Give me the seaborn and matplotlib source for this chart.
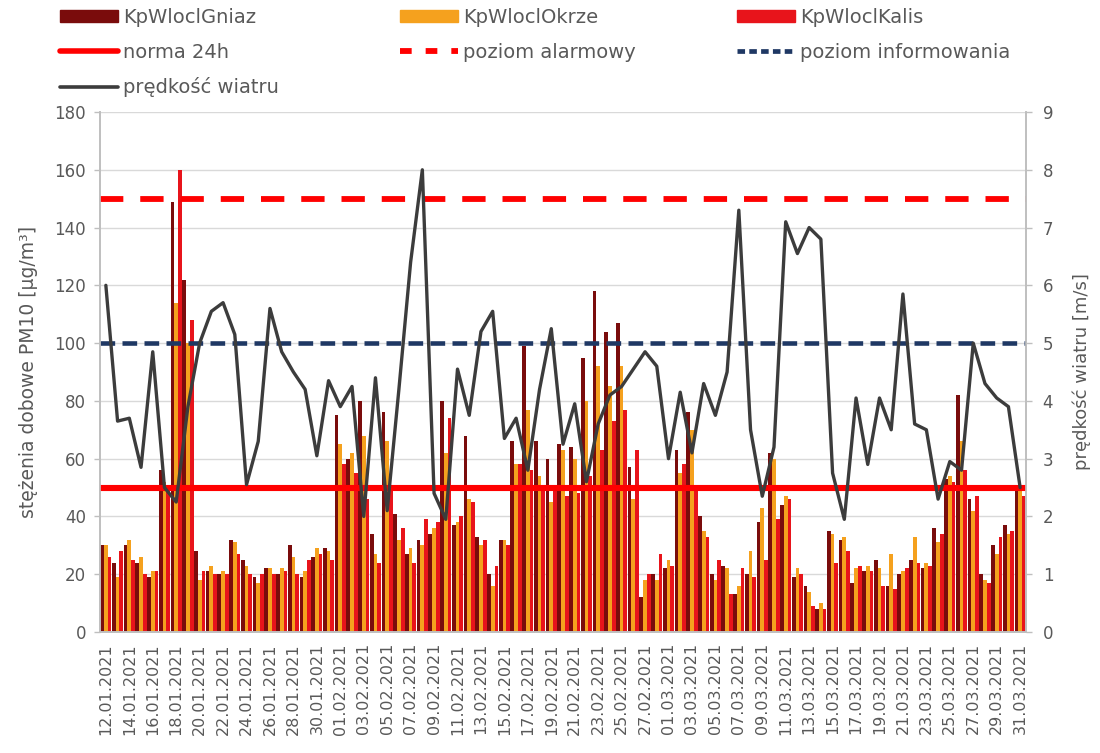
import numpy as np
import pandas as pd
import matplotlib
matplotlib.use("Agg")
import matplotlib.pyplot as plt
import seaborn as sns
from matplotlib.patches import Patch
from matplotlib.lines import Line2D

# ---------------- data ----------------
dates = pd.date_range("2021-01-12", "2021-03-31").strftime("%d.%m.%Y").tolist()

gniaz = [30, 24, 30, 24, 19, 56, 149, 122, 28, 21, 20, 32, 25, 19, 22, 20, 30, 19, 26, 29,
         75, 60, 80, 34, 76, 41, 27, 32, 34, 80, 37, 68, 33, 20, 32, 66, 99, 66, 60, 65,
         64, 95, 118, 104, 107, 57, 12, 20, 22, 63, 76, 40, 20, 23, 13, 20, 38, 62, 44, 19,
         16, 8, 35, 32, 17, 21, 25, 16, 20, 25, 22, 36, 53, 82, 46, 20, 30, 37, 50]
okrze = [30, 19, 32, 26, 21, 52, 114, 100, 18, 23, 21, 31, 23, 17, 22, 22, 26, 21, 29, 28,
         65, 62, 68, 27, 66, 32, 29, 30, 36, 62, 38, 46, 30, 16, 32, 58, 77, 54, 45, 63,
         60, 80, 92, 85, 92, 46, 18, 18, 25, 55, 70, 35, 18, 22, 16, 28, 43, 60, 47, 22,
         14, 10, 34, 33, 22, 23, 22, 27, 21, 33, 24, 31, 54, 66, 42, 18, 27, 34, 51]
kalis = [26, 28, 25, 20, 21, 50, 160, 108, 21, 20, 20, 27, 20, 20, 20, 21, 20, 25, 27, 25,
         58, 55, 46, 24, 50, 36, 24, 39, 38, 74, 40, 45, 32, 23, 30, 58, 56, 49, 49, 47,
         48, 54, 63, 73, 77, 63, 20, 27, 23, 58, 50, 33, 25, 13, 22, 19, 25, 39, 46, 20,
         9, 8, 24, 28, 23, 21, 16, 15, 22, 24, 23, 34, 52, 56, 47, 17, 33, 35, 47]
wind = [6.0, 3.65, 3.7, 2.85, 4.85, 2.5, 2.25, 3.9, 5.0, 5.55, 5.7, 5.15, 2.55, 3.3, 5.6,
        4.85, 4.5, 4.2, 3.05, 4.35, 3.9, 4.25, 2.0, 4.4, 2.1, 4.2, 6.4, 8.0, 2.4, 1.95,
        4.55, 3.75, 5.2, 5.55, 3.35, 3.7, 2.8, 4.2, 5.25, 3.25, 3.95, 2.6, 3.6, 4.1, 4.25,
        4.55, 4.85, 4.6, 3.0, 4.15, 3.1, 4.3, 3.75, 4.5, 7.3, 3.5, 2.35, 3.2, 7.1, 6.55,
        7.0, 6.8, 2.75, 1.95, 4.05, 2.9, 4.05, 3.5, 5.85, 3.6, 3.5, 2.3, 2.95, 2.8, 5.0,
        4.3, 4.05, 3.9, 2.5]

series_names = ["KpWloclGniaz", "KpWloclOkrze", "KpWloclKalis"]
norma_24h = 50
poziom_alarmowy = 150
poziom_informowania = 100

# ---------------- style ----------------
sns.set_theme(style="white")
plt.rcParams['font.family'] = ['DejaVu Sans']
TXT = "#595959"
GRID = "#d9d9d9"
SPINE = "#bfbfbf"
colors = {"KpWloclGniaz": "#7a0c0c", "KpWloclOkrze": "#f5a11e", "KpWloclKalis": "#e8141b"}
RED_LINE = "#ff0000"
NAVY = "#1f3864"
WIND_C = "#3c3c3c"

df = pd.DataFrame({
    "date": dates * 3,
    "value": gniaz + okrze + kalis,
    "series": [series_names[0]] * len(dates) + [series_names[1]] * len(dates) + [series_names[2]] * len(dates),
})

fig = plt.figure(figsize=(11, 7.53), dpi=100)
ax = fig.add_axes([100 / 1100, 1 - 632 / 753, 926 / 1100, 520 / 753])

sns.barplot(data=df, x="date", y="value", hue="series", order=dates, hue_order=series_names,
            palette=colors, width=0.96, saturation=1, linewidth=0, errorbar=None,
            legend=False, ax=ax, zorder=2)

ax.axhline(norma_24h, color=RED_LINE, lw=4.4, zorder=4)
ax.axhline(poziom_alarmowy, color=RED_LINE, lw=4.2, dashes=(4.0, 2.9), zorder=4)
ax.axhline(poziom_informowania, color=NAVY, lw=3.3, dashes=(3.2, 1.6), zorder=4)

ax.set_ylim(0, 180)
ax.set_xlim(-0.5, len(dates) - 0.5)
ax.set_yticks(range(0, 181, 20))
ax.yaxis.grid(True, color=GRID, lw=1)
ax.set_axisbelow(True)
ax.set_xticks(range(0, len(dates), 2))
ax.set_xticklabels(dates[::2], rotation=90)
ax.tick_params(axis="x", colors=TXT, labelsize=11.5, length=0, pad=8)
ax.tick_params(axis="y", colors=TXT, labelsize=12, length=4, width=1, color=SPINE, pad=6)
ax.set_xlabel("")
ax.set_ylabel("stężenia dobowe PM10 [µg/m³]", color=TXT, fontsize=13.5, labelpad=12)

for s in ["left", "bottom", "right"]:
    ax.spines[s].set_color(SPINE)
ax.spines["top"].set_visible(False)

ax2 = ax.twinx()
sns.lineplot(x=np.arange(len(dates)), y=wind, ax=ax2, color=WIND_C, lw=2.4, zorder=5)
ax2.set_ylim(0, 9)
ax2.set_yticks(range(0, 10))
ax2.tick_params(axis="y", colors=TXT, labelsize=12, length=4, width=1, color=SPINE, pad=8)
ax2.set_ylabel("prędkość wiatru [m/s]", color=TXT, fontsize=13, labelpad=14)
for s in ["left", "bottom", "right"]:
    ax2.spines[s].set_color(SPINE)
ax2.spines["top"].set_visible(False)
ax2.set_xlim(-0.5, len(dates) - 0.5)

# ---------------- legend (three columns placed like the original) ----------------
leg_kw = dict(loc="upper left", frameon=False, handlelength=3.0, handleheight=0.6,
              handletextpad=0.25, labelspacing=0.8, fontsize=14, labelcolor=TXT,
              borderaxespad=0, borderpad=0)
col1 = ([Patch(color=colors["KpWloclGniaz"]),
         Line2D([], [], color=RED_LINE, lw=4),
         Line2D([], [], color=WIND_C, lw=2.6)],
        ["KpWloclGniaz", "norma 24h", "prędkość wiatru"], 60)
col2 = ([Patch(color=colors["KpWloclOkrze"]),
         Line2D([], [], color=RED_LINE, lw=4.2, dashes=(2.0, 2.4))],
        ["KpWloclOkrze", "poziom alarmowy"], 400)
col3 = ([Patch(color=colors["KpWloclKalis"]),
         Line2D([], [], color=NAVY, lw=3.4, dashes=(1.6, 0.9))],
        ["KpWloclKalis", "poziom informowania"], 737)
for hs, ls, x0 in (col1, col2, col3):
    fig.legend(hs, ls, bbox_to_anchor=(x0 / 1100, 1 - 8 / 753), **leg_kw)

fig.savefig("out.png", dpi=100, facecolor="white")
